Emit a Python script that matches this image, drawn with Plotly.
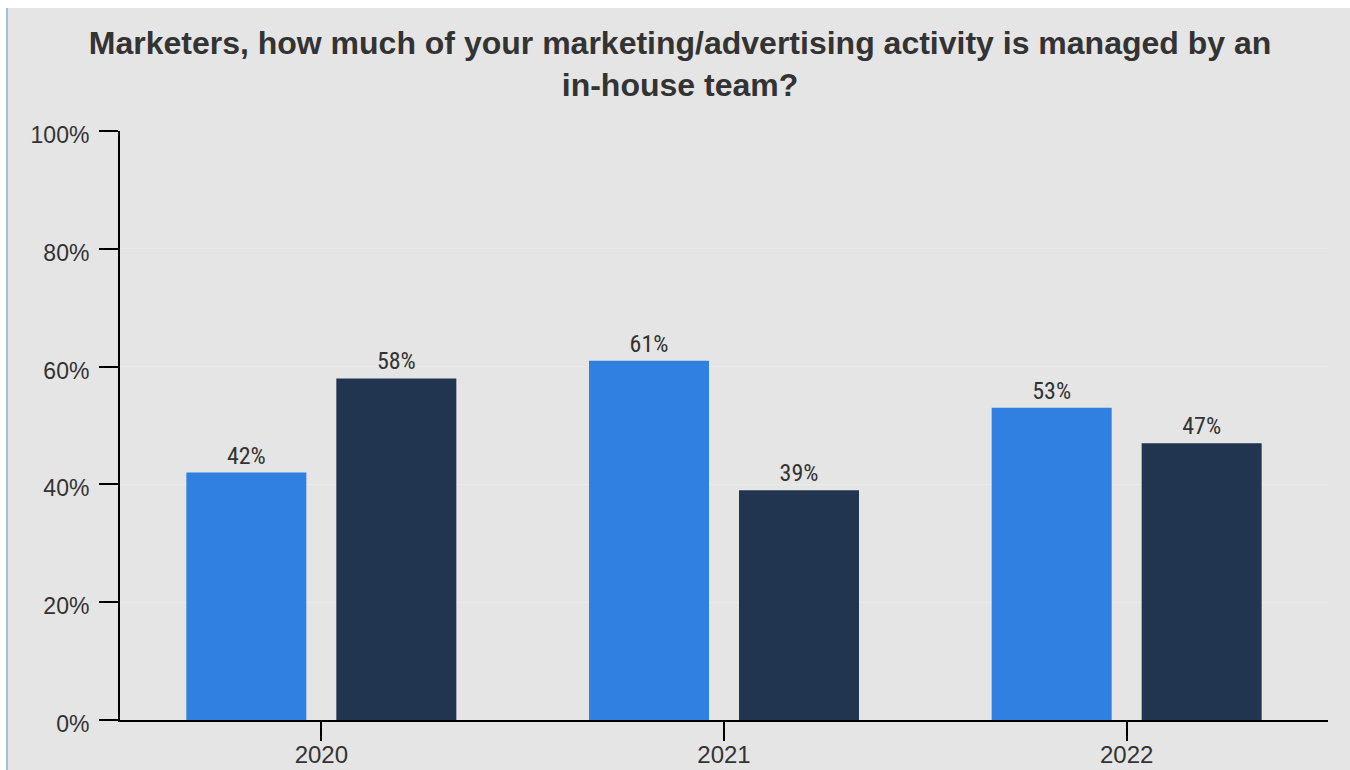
import plotly.graph_objects as go

# Survey results: share of marketing/advertising activity handled in-house
years = ["2020", "2021", "2022"]
series_a = [42, 61, 53]
series_b = [58, 39, 47]
y_ticks = [0, 20, 40, 60, 80, 100]
y_tick_labels = ["0%", "20%", "40%", "60%", "80%", "100%"]

W, H = 1350, 770
M_L, M_R, M_T, M_B = 120, 22, 131, 50
PW, PH = W - M_L - M_R, H - M_T - M_B


def px_x(x):
    return (x - M_L) / PW


def px_y(y):
    return (H - M_B - y) / PH


BG = "#e5e5e5"
TXT = "#333333"
label_font = dict(family="Roboto Condensed, Liberation Sans Narrow, DejaVu Sans Condensed, Roboto",
                  size=24, color=TXT)

fig = go.Figure()
fig.add_trace(go.Bar(
    x=years, y=series_a, marker=dict(color="#2f80e1", line=dict(width=0)),
    text=[f"{v}%" for v in series_a], textposition="outside",
    textfont=label_font, cliponaxis=False, hoverinfo="skip",
))
fig.add_trace(go.Bar(
    x=years, y=series_b, marker=dict(color="#213551", line=dict(width=0)),
    text=[f"{v}%" for v in series_b], textposition="outside",
    textfont=label_font, cliponaxis=False, hoverinfo="skip",
))

shapes = [
    # page frame: white strip on top, thin blue rule on the left
    dict(type="rect", xref="paper", yref="paper",
         x0=px_x(0), x1=px_x(W), y0=px_y(8), y1=px_y(0),
         fillcolor="white", line=dict(width=0), layer="below"),
    dict(type="rect", xref="paper", yref="paper",
         x0=px_x(0), x1=px_x(6), y0=px_y(H), y1=px_y(0),
         fillcolor="white", line=dict(width=0), layer="below"),
    dict(type="rect", xref="paper", yref="paper",
         x0=px_x(6), x1=px_x(8), y0=px_y(H), y1=px_y(8),
         fillcolor="#a3c1d3", line=dict(width=0), layer="below"),
]

fig.update_layout(
    width=W, height=H,
    margin=dict(l=M_L, r=M_R, t=M_T, b=M_B, autoexpand=False),
    paper_bgcolor=BG, plot_bgcolor=BG,
    barmode="group", bargap=0.255, bargroupgap=0.2,
    showlegend=False,
    shapes=shapes,
    title=dict(
        text="<b>Marketers, how much of your marketing/advertising activity is managed by an<br>in-house team?</b>",
        font=dict(family="Liberation Sans, Arial, sans-serif", size=32, color=TXT),
        x=680 / W, xanchor="center", xref="container",
        y=1 - 54 / H, yanchor="top", yref="container",
    ),
    font=dict(family="Liberation Sans, Arial, sans-serif", size=22, color=TXT),
)

fig.update_xaxes(
    type="category", range=[-0.5, 2.5],
    showline=True, linecolor="black", linewidth=2,
    ticks="outside", ticklen=19, tickwidth=2, tickcolor="black",
    tickfont=dict(size=24, color=TXT), ticklabelstandoff=-7,
    showgrid=False, zeroline=False,
)
fig.update_yaxes(
    range=[0, 100], tickvals=y_ticks, ticktext=y_tick_labels,
    showline=True, linecolor="black", linewidth=2,
    ticks="outside", ticklen=19, tickwidth=2, tickcolor="black",
    tickfont=dict(size=23, color=TXT), ticklabelstandoff=5, ticklabelshift=4,
    showgrid=True, gridcolor="#eaeaea", gridwidth=1,
    zeroline=False,
)

fig.write_html("out.html")
